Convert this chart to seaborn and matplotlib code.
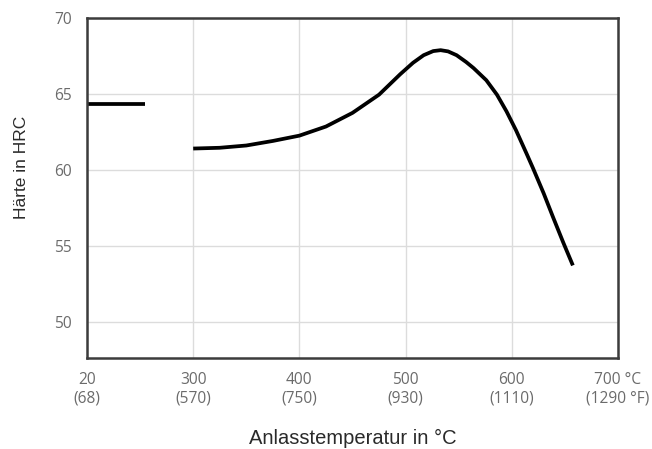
import numpy as np
import pandas as pd
import matplotlib
matplotlib.use("Agg")
import matplotlib.pyplot as plt
import seaborn as sns

# ---------------------------------------------------------------------------
# Daten
# ---------------------------------------------------------------------------
# Anlasskurve: Temperatur in °C und Härte in HRC
temp_c = [300, 325, 350, 375, 400, 425, 450, 475, 495, 507, 517, 526, 533,
          540, 548, 557, 564, 576, 586, 595, 604, 614, 620, 630, 639, 648.5, 657.5]
haerte = [61.4, 61.45, 61.6, 61.9, 62.25, 62.85, 63.75, 64.95, 66.3, 67.05, 67.55, 67.82, 67.88,
          67.8, 67.55, 67.1, 66.7, 65.9, 64.95, 63.85, 62.6, 61.05, 60.1, 58.45, 56.85, 55.2, 53.7]

# Härte nach dem Härten (20 °C), auf der gebrochenen Achse bei Position 200
rt_x = [200, 255]
rt_haerte = [64.35, 64.35]

x_ticks = [200, 300, 400, 500, 600, 700]
x_labels = ["20\n(68)", "300\n(570)", "400\n(750)", "500\n(930)",
            "600\n(1110)", "700 °C\n(1290 °F)"]
y_ticks = [50, 55, 60, 65, 70]

df_kurve = pd.DataFrame({"Temperatur": temp_c, "HRC": haerte})
df_rt = pd.DataFrame({"Temperatur": rt_x, "HRC": rt_haerte})

# ---------------------------------------------------------------------------
# Plot
# ---------------------------------------------------------------------------
sns.set_theme(style="whitegrid")
plt.rcParams["font.family"] = ["Liberation Sans", "DejaVu Sans"]

fig = plt.figure(figsize=(6.52, 4.49), dpi=100)
ax = fig.add_axes([87 / 652, 1 - 358 / 449, 531 / 652, 340 / 449])

sns.lineplot(data=df_kurve, x="Temperatur", y="HRC", ax=ax,
             color="black", linewidth=2.7, solid_capstyle="butt",
             solid_joinstyle="round")
sns.lineplot(data=df_rt, x="Temperatur", y="HRC", ax=ax,
             color="black", linewidth=2.7, solid_capstyle="butt")

ax.set_xlim(200, 700)
ax.set_ylim(47.6, 70)
ax.set_xticks(x_ticks)
ax.set_xticklabels(x_labels)
ax.set_yticks(y_ticks)

for lab in ax.get_xticklabels() + ax.get_yticklabels():
    lab.set_fontfamily("Open Sans")
    lab.set_fontsize(11.2)
    lab.set_color("#6b6b6b")
ax.tick_params(axis="x", length=0, pad=10)
ax.tick_params(axis="y", length=0, pad=11)

ax.grid(True, color="#dcdcdc", linewidth=1.0)
for side in ["left", "right", "top", "bottom"]:
    ax.spines[side].set_visible(True)
    ax.spines[side].set_color("#3c3c3c")
    ax.spines[side].set_linewidth(1.8)
ax.set_facecolor("white")

ax.set_xlabel("Anlasstemperatur in °C", fontsize=14.5, color="#2a2a2a")
ax.set_ylabel("Härte in HRC", fontsize=12.5, color="#2a2a2a")
ax.xaxis.set_label_coords(0.5, -0.208)
ax.yaxis.set_label_coords(-0.11, 0.56)

fig.savefig("out.png", dpi=100, facecolor="white")
